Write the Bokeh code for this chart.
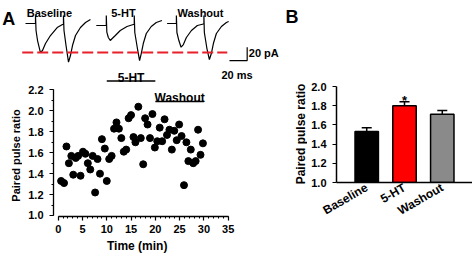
import math
from bokeh.plotting import figure
from bokeh.layouts import row, column
from bokeh.models import (Range1d, FactorRange, ColumnDataSource, Whisker, TeeHead,
                          SingleIntervalTicker, PrintfTickFormatter)
from bokeh.core.properties import value
from bokeh.embed import file_html
from bokeh.resources import INLINE

FONT = "Liberation Sans"

# ---------------- data ----------------
# Panel A, scatter: paired pulse ratio over time
time_min = [0.6, 1.2, 1.7, 2.2, 2.7, 3.1, 3.6, 4.1, 4.6, 5.1,
            5.6, 6.1, 6.6, 7.1, 7.6, 8.1, 8.6, 9.0, 9.6, 10.0,
            10.5, 11.0, 11.5, 12.0, 12.5, 13.0, 13.5, 14.0, 14.5, 15.0,
            15.5, 15.9, 16.5, 17.0, 17.5, 17.9, 18.4, 18.9, 19.4, 19.9,
            20.4, 20.9, 21.4, 21.9, 22.4, 22.9, 23.4, 23.9, 24.4, 24.9,
            25.4, 25.9, 26.4, 26.8, 27.3, 27.8, 28.3, 28.8, 29.3, 29.8]
ppr = [1.33, 1.31, 1.66, 1.50, 1.57, 1.39, 1.55, 1.57, 1.38, 1.61,
       1.59, 1.50, 1.44, 1.57, 1.22, 1.54, 1.40, 1.73, 1.64, 1.33,
       1.54, 1.57, 1.83, 1.89, 1.83, 1.74, 1.61, 1.63, 1.93, 1.96,
       1.75, 1.70, 2.04, 1.74, 1.49, 1.93, 1.87, 1.74, 1.97, 1.65,
       1.71, 1.84, 1.71, 1.92, 1.77, 1.82, 1.63, 1.81, 1.72, 1.87,
       1.76, 1.29, 1.70, 1.52, 1.63, 1.50, 1.52, 1.82, 1.58, 1.69]
periods = ["5-HT", "Washout"]
period_start = [10, 20]
period_end = [20, 30]

# Panel A, example traces (time in ms, current in pA)
trace_names = ["Baseline", "5-HT", "Washout"]
baseline_ms = [0, 10.2, 11.3, 11.3, 11.9, 13.6, 16.9, 19.2, 22.6, 28.2, 35.8, 41.8,
               42.9, 42.9, 43.5, 45.8, 48.6, 50.8, 53.1, 56.5, 62.1, 67.8, 73.4]
baseline_pA = [0, 0, 0, 12, -10.5, -25.5, -43.5, -40.5, -30, -18, -6, -1.5,
               -1.5, 12, -10.5, -33, -58, -48, -33, -18, -6, 1.5, 6]
ht_ms = [0, 10.2, 11.3, 11.3, 11.9, 13.6, 15.8, 18.0, 21.5, 27.1, 34.7, 41.8,
         42.9, 42.9, 43.5, 46.3, 48.9, 50.8, 53.1, 56.5, 62.1, 67.8, 74.2]
ht_pA = [-3, -3, -3, 12, -13, -21, -25.5, -22.5, -18, -10.5, -4.5, -1.5,
         -1.5, 12, -13.5, -36, -55.5, -45, -30, -15, -4.5, 1.5, 4.5]
washout_ms = [0, 10.0, 10.5, 10.5, 11.1, 13.3, 15.8, 18.4, 21.8, 27.5, 34.2, 41.0,
              41.6, 41.6, 42.1, 45.0, 47.8, 50.0, 52.3, 55.7, 61.4, 67.0, 69.6]
washout_pA = [0, 0, 0, 12, -13.5, -25.5, -35.5, -31.5, -21, -10.5, -3, -0.75,
              -0.75, 12, -13.5, -37.5, -54, -45, -30, -15, -4.5, 1.5, 3]
baseline_peak_pA = -43.5      # red dashed reference line
scale_ms = 20
scale_pA = 20

# Panel B, bar chart
conditions = ["Baseline", "5-HT", "Washout"]
ppr_mean = [1.53, 1.80, 1.71]
ppr_sem = [0.04, 0.04, 0.04]
significance = ["", "*", ""]

# ---------------- layout constants ----------------
trace_offsets = [0, 80, 160]
trace_label_x = [27, 110.7, 197.7]
bar_colors = ["#000000", "#ff0000", "#8a8a8a"]
TXT = dict(text_font=value(FONT), text_font_style="bold", text_color="black")


def blank(w, h):
    f = figure(width=w, height=h, x_range=Range1d(0, w), y_range=Range1d(0, h),
               output_backend="svg", toolbar_location=None, min_border=0,
               x_axis_location=None, y_axis_location=None, outline_line_color=None)
    f.grid.visible = False
    f.frame_align = False
    return f


def style_axis(ax, label_size="11px"):
    ax.major_label_text_font = FONT
    ax.major_label_text_font_style = "bold"
    ax.major_label_text_font_size = label_size
    ax.major_label_text_color = "black"
    ax.axis_line_color = "black"
    ax.major_tick_line_color = "black"
    ax.minor_tick_line_color = "black"
    ax.major_tick_in = 0
    ax.minor_tick_in = 0
    ax.major_tick_line_width = 1.2
    ax.minor_tick_line_width = 1


# ---------------- traces (top of panel A) ----------------
tr = figure(width=285, height=64, x_range=Range1d(-28.25, 293.8), y_range=Range1d(-61.45, 34.5),
            output_backend="svg", toolbar_location=None, min_border=0,
            x_axis_location=None, y_axis_location=None, outline_line_color=None)
tr.grid.visible = False
tr.frame_align = False
for off, ms, pa in zip(trace_offsets, [baseline_ms, ht_ms, washout_ms],
                       [baseline_pA, ht_pA, washout_pA]):
    tr.line([m + off for m in ms], pa, line_color="black", line_width=1.2)
tr.line([-3.7, 228], [baseline_peak_pA, baseline_peak_pA], line_color="#e8202a",
        line_width=2, line_dash="11 4")
sx0, sy0 = 230.5, -55.5
tr.line([sx0, sx0 + scale_ms, sx0 + scale_ms], [sy0, sy0, sy0 + scale_pA],
        line_color="black", line_width=1.2)
tr.text(x=[sx0 + scale_ms + 1.8], y=[sy0 + scale_pA / 2], text=[f"{scale_pA} pA"],
        text_font_size="11px", text_align="left", text_baseline="middle", y_offset=-1, **TXT)
tr.text(x=trace_label_x, y=[15.7] * 3, text=trace_names, text_font_size="11px",
        text_align="center", text_baseline="alphabetic", **TXT)
tr.text(x=[-26.3], y=[7.0], text=["A"], text_font_size="18px",
        text_align="left", text_baseline="alphabetic", **TXT)

# ---------------- scatter (panel A) ----------------
sc = figure(width=263, height=174, x_range=Range1d(-0.968, 46.8), y_range=Range1d(0.9904, 2.4438),
            output_backend="svg", toolbar_location=None,
            min_border_left=31, min_border_right=0, min_border_top=0, min_border_bottom=22,
            outline_line_color=None)
sc.grid.visible = False
sc.frame_align = False
sc.scatter(time_min, ppr, size=7, color="black")
levels = [2.286, 2.090]
sc.segment(x0=period_start, y0=levels, x1=period_end, y1=levels, line_color="black", line_width=1.5)
sc.text(x=[(s + e) / 2 for s, e in zip(period_start, period_end)], y=levels, text=periods,
        text_font_size="12px", text_align="center", text_baseline="alphabetic",
        y_offset=-3.2, **TXT)
sc.text(x=[33.6], y=[2.348], text=[f"{scale_ms} ms"], text_font_size="11px",
        text_align="left", text_baseline="alphabetic", **TXT)

xa = sc.xaxis[0]
xa.bounds = (0, 35)
xa.ticker = SingleIntervalTicker(interval=5, num_minor_ticks=5)
ya = sc.yaxis[0]
ya.bounds = (1.0, 2.2)
ya.ticker = SingleIntervalTicker(interval=0.2, num_minor_ticks=2)
ya.formatter = PrintfTickFormatter(format="%.1f")
for ax in (xa, ya):
    style_axis(ax)
    ax.axis_line_width = 1.3
    ax.major_tick_out = 4
    ax.minor_tick_out = 2
xa.major_label_standoff = 4
ya.major_label_standoff = 6

yla = blank(22, 174)
yla.text(x=[15], y=[83], text=["Paired pulse ratio"], angle=math.pi / 2,
         text_font_size="11px", text_align="center", text_baseline="middle", **TXT)
xla = blank(285, 16)
xla.text(x=[136.7], y=[8.3], text=["Time (min)"], text_font_size="12px",
         text_align="center", text_baseline="middle", **TXT)

# ---------------- bar chart (panel B) ----------------
br = figure(width=165, height=176, x_range=FactorRange(*conditions, range_padding=0.2),
            y_range=Range1d(1.0, 2.0), output_backend="svg", toolbar_location=None,
            min_border_left=29, min_border_right=0, min_border_top=8, min_border_bottom=72,
            outline_line_color=None)
br.grid.visible = False
br.frame_align = False
src = ColumnDataSource(dict(cond=conditions, mean=ppr_mean,
                            upper=[m + s for m, s in zip(ppr_mean, ppr_sem)],
                            color=bar_colors, sig=significance))
br.vbar(x="cond", top="mean", bottom=1.0, width=0.62, fill_color="color",
        line_color="black", line_width=1.5, source=src)
br.add_layout(Whisker(source=src, base="cond", lower="mean", upper="upper",
                      lower_head=None,
                      upper_head=TeeHead(size=10, line_width=1.5, line_color="black"),
                      line_width=1.5, line_color="black"))
br.text(x="cond", y="upper", text="sig", source=src, text_font_size="13px",
        text_align="center", text_baseline="alphabetic", y_offset=-1.5, **TXT)
bx = br.xaxis[0]
by = br.yaxis[0]
style_axis(bx, "12px")
style_axis(by, "11px")
bx.major_label_orientation = math.radians(30)
bx.major_tick_out = 0
bx.major_label_standoff = 4
bx.axis_line_width = 1.5
by.bounds = (1.0, 2.0)
by.ticker = SingleIntervalTicker(interval=0.2, num_minor_ticks=0)
by.formatter = PrintfTickFormatter(format="%.1f")
by.major_tick_out = 4
by.major_label_standoff = 6
by.axis_line_width = 1.5

ylb = blank(22, 176)
ylb.text(x=[15], y=[120.5], text=["Paired pulse ratio"], angle=math.pi / 2,
         text_font_size="12px", text_align="center", text_baseline="middle", **TXT)
bh = blank(187, 78)
bh.text(x=[0], y=[61.3], text=["B"], text_font_size="18px",
        text_align="left", text_baseline="alphabetic", **TXT)

layout = row(column(tr, row(yla, sc), xla), column(bh, row(ylb, br)))
open("out.html", "w").write(file_html(layout, INLINE))
